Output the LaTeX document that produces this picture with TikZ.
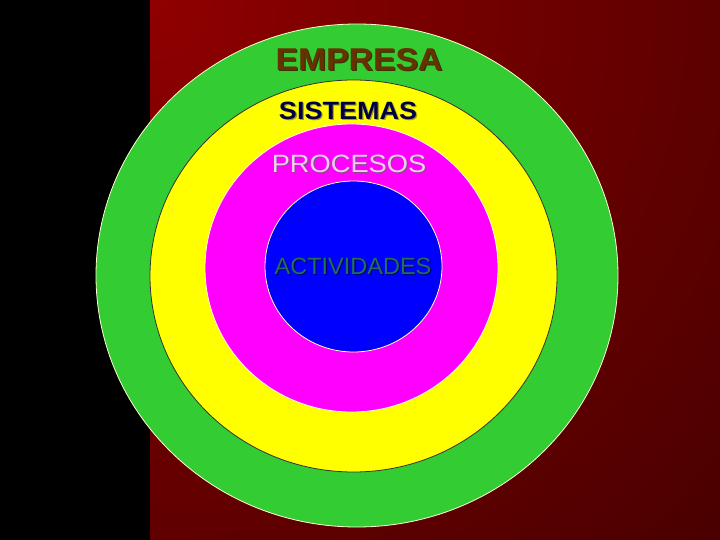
\documentclass[tikz,border=0pt]{standalone}
\usepackage{fontspec}
\setmainfont{Liberation Sans}
\definecolor{bgbright}{HTML}{900000}
\definecolor{bgdark}{HTML}{460000}
\definecolor{ringgreen}{HTML}{33CC33}
\definecolor{ringyellow}{HTML}{FFFF00}
\definecolor{ringmagenta}{HTML}{FF00FF}
\definecolor{ringblue}{HTML}{0000FF}
\definecolor{txtbrown}{HTML}{663300}
\definecolor{shbrown}{HTML}{3A3000}
\definecolor{txtnavy}{HTML}{000044}
\definecolor{shnavy}{HTML}{A8A020}
\definecolor{txtpink}{HTML}{F4CCF4}
\definecolor{shpink}{HTML}{8A4A8A}
\definecolor{txtteal}{HTML}{1F6F5A}
\definecolor{shteal}{HTML}{00006A}
\definecolor{rimlight}{HTML}{FFFFD0}
\newcommand{\shadowtext}[3]{\makebox[0pt][l]{\hspace{1.2pt}\raisebox{-1.2pt}{\color{#2}#3}}{\color{#1}#3}}
\begin{document}
\begin{tikzpicture}[x=1pt,y=-1pt,
  ring/.style={line width=0.8pt},
  label/.style={inner sep=0pt,anchor=center}]
\useasboundingbox (0,0) rectangle (720,540);
\fill[black] (0,0) rectangle (150,540);
\fill[bgdark] (150,0) rectangle (720,540);
\begin{scope}
  \clip (150,0) rectangle (720,540);
  \shade[inner color=bgbright,outer color=bgdark] (150,0) circle (820);
\end{scope}
\filldraw[ring,fill=ringgreen,draw=rimlight] (357,275.5) ellipse [x radius=261,y radius=251.5];
\filldraw[ring,fill=ringyellow,draw=black!80] (353.5,276) ellipse [x radius=203.5,y radius=196];
\filldraw[ring,fill=ringmagenta,draw=rimlight] (351.5,268) ellipse [x radius=146.5,y radius=144];
\filldraw[ring,fill=ringblue,draw=rimlight] (353.5,266.5) ellipse [x radius=88.5,y radius=85.5];
\node[label,font=\fontsize{31.5}{31.5}\selectfont\bfseries] (empresa) at (359,60)
  {\scalebox{1.07}[1]{\shadowtext{txtbrown}{shbrown}{EMPRESA}}};
\node[label,font=\fontsize{25}{25}\selectfont\bfseries] (sistemas) at (348,111)
  {\scalebox{1.08}[1]{\shadowtext{txtnavy}{shnavy}{SISTEMAS}}};
\node[label,font=\fontsize{25}{25}\selectfont] (procesos) at (349,164)
  {\scalebox{1.09}[1]{\shadowtext{txtpink}{shpink}{PROCESOS}}};
\node[label,font=\fontsize{23.5}{23.5}\selectfont] (actividades) at (353,267)
  {\shadowtext{txtteal}{shteal}{ACTIVIDADES}};
\end{tikzpicture}
\end{document}
